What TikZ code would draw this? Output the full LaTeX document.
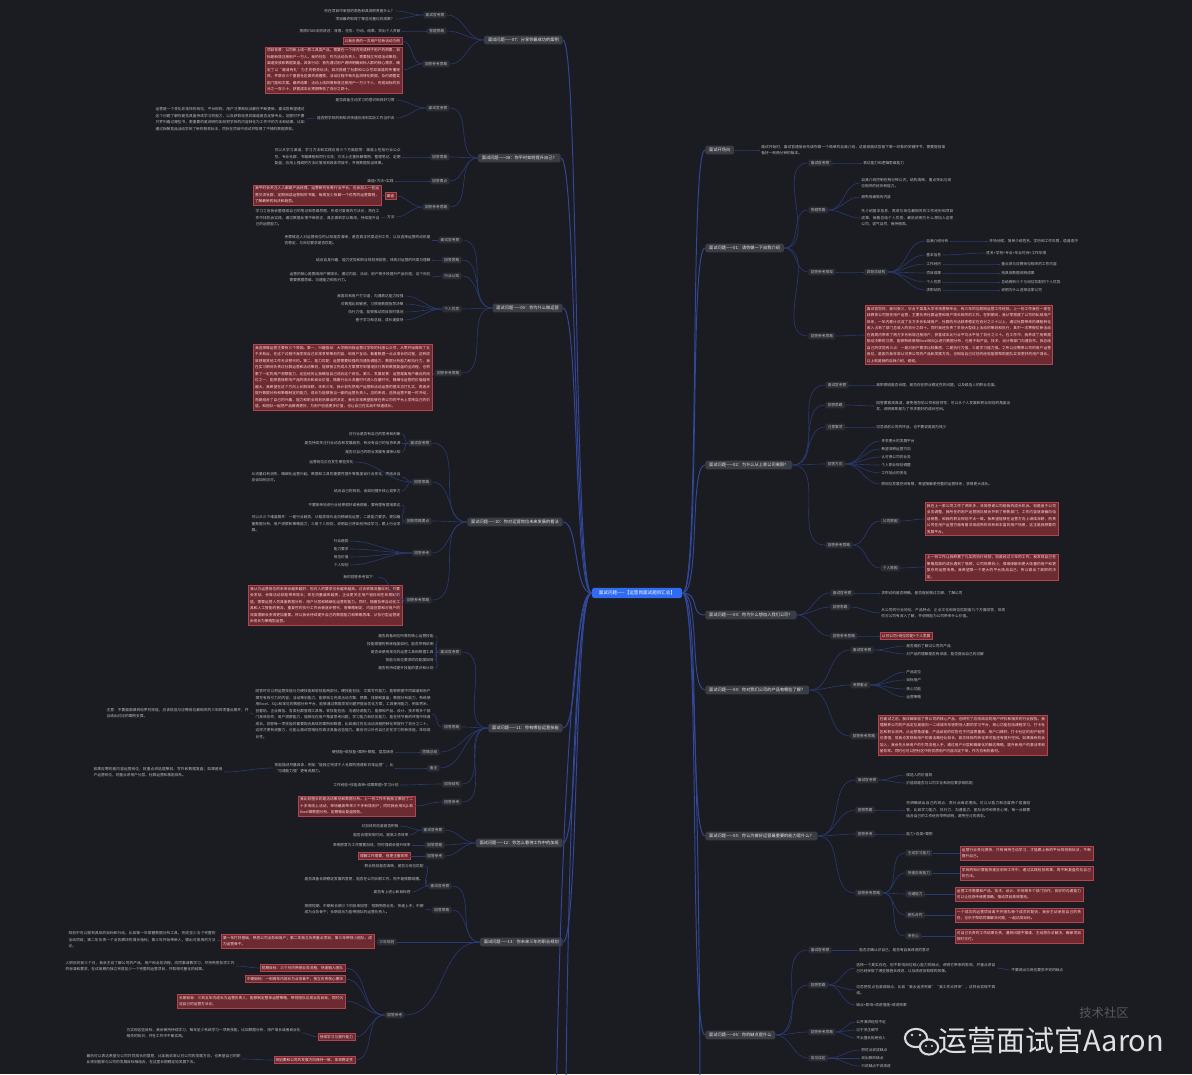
\documentclass[tikz,border=0pt]{standalone}
\usepackage{fontspec}
\setmainfont{Noto Sans CJK SC}
\usetikzlibrary{positioning}
\XeTeXlinebreaklocale "zh"
\XeTeXlinebreakskip=0pt plus 0.4pt
\definecolor{bgdark}{HTML}{1A1C21}
\definecolor{rootblue}{HTML}{2F6CF2}
\definecolor{topicgray}{HTML}{3A3D44}
\definecolor{subgray}{HTML}{2A2D34}
\definecolor{leafgray}{HTML}{BEBEBE}
\definecolor{hotred}{HTML}{6E2A31}
\definecolor{hotedge}{HTML}{B5444F}
\definecolor{trunkblue}{HTML}{33479A}
\definecolor{linkblue}{HTML}{2A3A72}

\begin{document}
\begin{tikzpicture}[x=0.02cm, y=-0.02cm,
  root/.style={rectangle, fill=rootblue, text=white, rounded corners=1pt,
               font=\fontsize{2.6}{3}\selectfont, inner xsep=4pt, inner ysep=1.7pt},
  topic/.style={rectangle, fill=topicgray, text=white!92!black, rounded corners=1pt,
                font=\fontsize{2.4}{3}\selectfont, inner xsep=2.2pt, inner ysep=1.4pt},
  sub/.style={rectangle, fill=subgray, text=leafgray, rounded corners=0.8pt,
              font=\fontsize{2.1}{2.6}\selectfont, inner xsep=1.4pt, inner ysep=0.9pt},
  leaf/.style={text=leafgray, font=\fontsize{2.1}{3.7}\selectfont, inner sep=0.6pt, align=justify},
  hot/.style={leaf, fill=hotred, draw=hotedge, line width=0.25pt, text=white!85!red, inner sep=1pt},
  trunk/.style={draw=trunkblue, line width=0.55pt},
  lnk/.style={draw=linkblue, line width=0.35pt},
]
  \useasboundingbox (0,0) rectangle (1192,1074);
  \fill[bgdark] (0,0) rectangle (1192,1074);
  \clip (0,0) rectangle (1192,1074);

  % centre
  \node[root] (C) at (637,593) {面试问题——【运营岗面试题目汇总】};

  % left topics
  \node[topic, anchor=east] (L1) at (563,40)  {面试问题——07：分享你最成功的案例};
  \node[topic, anchor=east] (L2) at (561,158) {面试问题——08：你平时如何提升自己？};
  \node[topic, anchor=east] (L3) at (563,308) {面试问题——09：你为什么做运营};
  \node[topic, anchor=east] (L4) at (563,522) {面试问题——10：你对运营岗位未来发展的看法};
  \node[topic, anchor=east] (L5) at (563,728) {面试问题——11：你有哪些运营技能};
  \node[topic, anchor=east] (L6) at (563,843) {面试问题——12：你怎么看待工作中的加班};
  \node[topic, anchor=east] (L7) at (563,942) {面试问题——13：你未来三年的职业规划};
  \coordinate (Ldn1) at (566,1100);
  \coordinate (Ldn2) at (556,1130);

  % right topics
  \node[topic, anchor=west] (R0) at (705,150)  {面试开场白};
  \node[topic, anchor=west] (R1) at (705,248)  {面试问题——01：请你做一下自我介绍};
  \node[topic, anchor=west] (R2) at (705,465)  {面试问题——02：为什么从上家公司离职？};
  \node[topic, anchor=west] (R3) at (705,615)  {面试问题——03：你为什么想加入我们公司？};
  \node[topic, anchor=west] (R4) at (705,690)  {面试问题——04：你对我们公司的产品有哪些了解？};
  \node[topic, anchor=west] (R5) at (705,836)  {面试问题——05：你认为做好运营最重要的能力是什么？};
  \node[topic, anchor=west] (R6) at (705,1035) {面试问题——06：你的缺点是什么};
  \coordinate (Rdn1) at (700,1110);

  % ---- 07
  \node[sub, anchor=east] (L1a) at (447,15) {面试官考察};
  \node[leaf, anchor=east] (L1a1) at (396,11) {你在项目中承担的角色和具体职责是什么？};
  \node[leaf, anchor=east] (L1a2) at (396,19) {项目最终取得了哪些可量化的成果？};
  \node[sub, anchor=east] (L1b) at (447,31) {答题思路};
  \node[leaf, anchor=east] (L1b1) at (402,31) {按照STAR法则讲述：背景、任务、行动、结果，突出个人贡献};
  \node[sub, anchor=east] (L1c) at (450,64) {回答参考思路};
  \node[hot, anchor=east] (L1c1) at (402,41) {以我负责的一次用户拉新活动为例};
  \node[hot, anchor=east, text width=2.66cm] (L1c2) at (402,70) {项目背景：公司新上线一款工具类产品，需要在一个月内完成种子用户的积累，目标是新增注册用户一万人。我的任务：作为活动负责人，需要独立完成活动策划、渠道投放和数据复盘。具体行动：首先通过用户调研明确目标人群的核心需求，确定了以“邀请有礼”为主的裂变玩法；其次搭建了社群和公众号双渠道的传播矩阵，并联合三个垂直社区做资源置换；活动过程中每天监测转化数据，及时调整奖励门槛和文案。最终结果：活动上线四周新增注册用户一万三千人，完成目标的百分之一百三十，获客成本比预期降低了百分之四十。};

  % ---- 08
  \node[sub, anchor=east] (L2a) at (450,108) {面试官考察};
  \node[leaf, anchor=east] (L2a1) at (396,100) {是否具备主动学习的意识和良好习惯};
  \node[leaf, anchor=east] (L2a2) at (396,118) {能否把学到的新知识快速应用到实际工作当中去};
  \node[leaf, anchor=east, text width=2.98cm] (L2a2x) at (306,119) {运营是一个变化非常快的岗位，平台规则、用户习惯和玩法都在不断更新，面试官希望通过这个问题了解你是否具备持续学习的能力，以及获取信息的渠道是否足够专业。回答时不要只罗列看过哪些书，更重要的是说明你如何把学到的内容转化为工作中的方法和结果，比如通过拆解竞品活动学到了新的裂变玩法，然后在项目中测试并取得了不错的数据表现。};
  \node[sub, anchor=east] (L2b) at (450,157) {回答思路};
  \node[leaf, anchor=east, text width=2.52cm] (L2b1) at (402,157) {可以从学习渠道、学习方法和实践应用三个方面回答：渠道上包括行业公众号、专业社群、书籍课程和同行交流；方法上注重拆解案例、整理笔记、定期复盘；应用上强调把方法论落地到具体项目中，并用数据验证效果。};
  \node[sub, anchor=east] (L2c) at (450,181) {回答要点};
  \node[leaf, anchor=east] (L2c1) at (395,181) {渠道+方法+实践};
  \node[sub, anchor=east] (L2d) at (450,207) {回答参考思路};
  \node[hot, anchor=east] (L2d1) at (396,196) {渠道};
  \node[hot, anchor=east, text width=2.48cm] (L2d1x) at (381,195) {我平时会关注人人都是产品经理、运营研究社等行业平台，也会加入一些运营交流社群，定期阅读运营相关书籍，每周至少拆解一个优秀的运营案例，了解最新的玩法和趋势。};
  \node[leaf, anchor=east] (L2d2) at (396,217) {方法};
  \node[leaf, anchor=east, text width=2.48cm] (L2d2x) at (381,218) {学习之后我会整理成自己的笔记和思维导图，形成可复用的方法论，再在工作中找机会实践，通过数据反馈不断修正，真正做到学以致用，持续提升自己的运营能力。};

  % ---- 09
  \node[sub, anchor=east] (L3a) at (462,240) {面试官考察};
  \node[leaf, anchor=east, text width=2.92cm] (L3a1) at (432,240) {考察候选人对运营岗位的认知是否清晰，是否真正热爱这份工作，以及选择运营的动机是否稳定、与岗位要求是否匹配。};
  \node[sub, anchor=east] (L3b) at (462,260) {回答思路};
  \node[leaf, anchor=east] (L3b1) at (432,260) {结合自身兴趣、能力优势和职业规划来回答，体现对运营的热爱与理解};
  \node[sub, anchor=east] (L3c) at (462,276) {行业认知};
  \node[leaf, anchor=east, text width=2.82cm] (L3c1) at (432,277) {运营的核心是围绕用户做增长，通过内容、活动、用户等手段提升产品价值；这个岗位需要数据思维、沟通能力和执行力。};
  \node[sub, anchor=east] (L3d) at (462,309) {个人优势};
  \node[leaf, anchor=east] (L3d1) at (405,296) {我喜欢和用户打交道，沟通表达能力较强};
  \node[leaf, anchor=east] (L3d2) at (405,304) {对数据比较敏感，习惯用数据指导决策};
  \node[leaf, anchor=east] (L3d3) at (405,312) {执行力强，能够推动项目按时落地};
  \node[leaf, anchor=east] (L3d4) at (405,320) {善于学习和总结，成长速度快};
  \node[sub, anchor=east] (L3e) at (462,373) {回答参考思路};
  \node[hot, anchor=east, text width=3.5cm] (L3e1) at (432,377) {我选择做运营主要有三个原因。第一，兴趣驱动：大学期间我运营过学校的社团公众号，从零开始做到了五千多粉丝，在这个过程中我发现自己非常享受策划内容、和用户互动、看着数据一点点增长的过程，这种成就感是其他工作无法替代的。第二，能力匹配：运营需要较强的沟通协调能力、数据分析能力和执行力，我在实习期间负责过社群运营和活动策划，能够独立完成从方案撰写到落地执行再到数据复盘的全流程，也积累了一定的用户洞察能力，这些经历让我确信自己适合这个岗位。第三，发展前景：运营是离用户最近的岗位之一，能够直接影响产品的增长和商业价值，随着行业从流量时代进入存量时代，精细化运营的价值越来越大，我希望在这个方向上长期深耕。未来三年，我计划先把用户运营和活动运营的基本功打扎实，再逐步提升数据分析和策略制定的能力，成长为能够独当一面的运营负责人。总的来说，选择运营不是一时冲动，而是结合了自己的兴趣、能力和职业规划后做出的决定，我也非常希望能够在贵公司的平台上发挥自己的价值，和团队一起把产品做得更好，为用户创造更多价值，也让自己在实战中快速成长。};

  % ---- 10
  \node[sub, anchor=east] (L4a) at (432,443) {面试官考察};
  \node[leaf, anchor=east] (L4a1) at (402,434) {对行业是否有自己的思考和判断};
  \node[leaf, anchor=east] (L4a2) at (402,443) {是否持续关注行业动态和发展趋势，有没有自己的信息来源};
  \node[leaf, anchor=east] (L4a3) at (402,452) {是否对自己的职业发展有清晰认知};
  \node[sub, anchor=east] (L4b) at (432,482) {回答思路};
  \node[leaf, anchor=east] (L4b1) at (355,462) {运营岗位正在发生哪些变化};
  \node[leaf, anchor=east, text width=2.98cm] (L4b2) at (402,477) {从流量红利消失、精细化运营兴起、数据和工具的重要性提升等角度谈行业变化，再结合自身谈如何应对。};
  \node[leaf, anchor=east] (L4b3) at (402,491) {结合自己的规划，谈如何提升核心竞争力};
  \node[sub, anchor=east] (L4c) at (432,521) {回答思路要点};
  \node[leaf, anchor=east] (L4c1) at (402,505) {不要简单地说行业前景很好或者很差，要有理有据地表达};
  \node[leaf, anchor=east, text width=2.98cm] (L4c2) at (402,524) {可以从三个维度展开：一是行业趋势，从粗放增长走向精细化运营；二是能力要求，更加看重数据分析、用户洞察和策略能力；三是个人规划，说明自己将如何持续学习，跟上行业发展。};
  \node[sub, anchor=east] (L4d) at (432,553) {回答参考};
  \node[leaf, anchor=east] (L4d1) at (350,541) {行业趋势};
  \node[leaf, anchor=east] (L4d2) at (350,549) {能力要求};
  \node[leaf, anchor=east] (L4d3) at (350,557) {岗位价值};
  \node[leaf, anchor=east] (L4d4) at (350,565) {个人规划};
  \node[sub, anchor=east] (L4e) at (432,600) {回答参考思路};
  \node[leaf, anchor=east] (L4e1) at (378,577) {我的回答参考如下：};
  \node[hot, anchor=east, text width=3cm] (L4e2) at (402,605) {我认为运营岗位的未来会越来越好，但对人的要求也会越来越高。过去依靠流量红利，只要会发帖、会做活动就能带来增长；现在流量越来越贵，企业更关注用户留存和生命周期价值，需要运营人员具备数据分析、用户分层和精细化运营的能力。同时，随着各种自动化工具和人工智能的普及，重复性的执行工作会被逐步替代，而策略制定、内容创意和对用户的深度理解会变得更加重要。所以我会持续提升自己的数据能力和策略思维，从执行型运营逐步成长为策略型运营。};

  % ---- 11
  \node[sub, anchor=east] (L5a) at (462,652) {面试官考察};
  \node[leaf, anchor=east] (L5a1) at (435,636) {是否具备岗位所需的核心运营技能};
  \node[leaf, anchor=east] (L5a2) at (435,644) {技能掌握的熟练程度如何，能否举例说明};
  \node[leaf, anchor=east] (L5a3) at (435,652) {是否会使用常见的运营工具和数据工具};
  \node[leaf, anchor=east] (L5a4) at (435,660) {技能与岗位要求的匹配度如何};
  \node[leaf, anchor=east] (L5a5) at (435,668) {是否有持续提升技能的意识和计划};
  \node[sub, anchor=east] (L5b) at (462,727) {回答思路};
  \node[leaf, anchor=east, text width=3.5cm] (L5b1) at (432,714) {回答时可以把运营技能分为硬技能和软技能两部分。硬技能包括：文案写作能力，能够根据不同渠道和用户撰写有吸引力的内容；活动策划能力，能够独立完成活动方案、预算、排期和复盘；数据分析能力，熟练使用Excel、SQL和常见的数据分析平台，能够通过数据发现问题并提出优化方案；工具使用能力，例如秀米、创客贴、企业微信、各类社群管理工具等。软技能包括：沟通协调能力，能够和产品、设计、技术等多个部门高效协作；用户洞察能力，能够站在用户角度思考问题；学习能力和抗压能力，能在快节奏的环境中快速成长。回答每一项技能时都要配合具体的案例和数据，比如通过优化活动流程把转化率提升了百分之二十，这样才更有说服力，也能让面试官相信你真正具备这些能力。最后可以补充自己正在学习的新技能，体现成长性。};
  \node[leaf, anchor=east, text width=2.84cm] (L5b1x) at (250,713) {注意：不要面面俱到地罗列技能，应该挑选与应聘岗位最相关的三到四项重点展开，并且给出对应的案例支撑。};
  \node[sub, anchor=east] (L5c) at (440,752) {思路总结};
  \node[leaf, anchor=east] (L5c1) at (395,752) {硬技能+软技能+案例+数据，层层递进};
  \node[sub, anchor=east] (L5d) at (440,768) {备注};
  \node[leaf, anchor=east, text width=2.38cm] (L5d1) at (395,768) {技能描述尽量具体，例如“能独立完成千人社群的搭建和日常运营”，比“沟通能力强”更有说服力。};
  \node[leaf, anchor=east, text width=2.58cm] (L5d1x) at (224,772) {如果应聘的是内容运营岗位，就重点讲选题策划、写作和数据复盘；如果是用户运营岗位，则重点讲用户分层、社群运营和激励体系。};
  \node[sub, anchor=east] (L5e) at (462,784) {回答结构};
  \node[leaf, anchor=east] (L5e1) at (400,785) {工作经验+技能清单+成果数据+学习计划};
  \node[sub, anchor=east] (L5f) at (462,802) {回答参考};
  \node[hot, anchor=east, text width=2.26cm] (L5f1) at (415,806) {我比较擅长的是活动策划和数据分析。上一份工作中我独立策划了二十多场线上活动，单场最高带来三千多新增用户；同时我会用SQL和Excel做数据分析，定期输出复盘报告。};

  % ---- 12
  \node[sub, anchor=east] (L6a) at (445,830) {面试官考察};
  \node[leaf, anchor=east] (L6a1) at (400,826) {对加班的态度是否积极};
  \node[leaf, anchor=east] (L6a2) at (410,835) {能否合理安排时间，提高工作效率};
  \node[sub, anchor=east] (L6b) at (445,845) {回答思路};
  \node[leaf, anchor=east] (L6b1) at (412,845) {表明愿意为工作需要加班，同时强调会提升效率};
  \node[sub, anchor=east] (L6c) at (445,856) {回答参考};
  \node[hot, anchor=east] (L6c1) at (410,856) {理解工作需要，但更注重效率};

  % ---- 13
  \node[sub, anchor=east] (L7a) at (452,886) {面试官考察};
  \node[leaf, anchor=east] (L7a1) at (425,866) {职业规划是否清晰，是否与岗位匹配};
  \node[leaf, anchor=east, text width=2.38cm] (L7a2) at (425,879) {是否具备长期稳定发展的意愿，能否在公司长期工作，而不是频繁跳槽。};
  \node[leaf, anchor=east] (L7a3) at (412,892) {是否有上进心和目标感};
  \node[sub, anchor=east] (L7b) at (452,910) {回答思路};
  \node[leaf, anchor=east, text width=2.38cm] (L7b1) at (425,909) {按照短期、中期和长期三个阶段来回答：短期熟悉业务、快速上手；中期成为业务骨干；长期成长为能带团队的运营负责人。};
  \node[sub, anchor=east] (L7c) at (397,942) {三年规划};
  \node[hot, anchor=east, text width=2.98cm] (L7c1) at (374,941) {第一年打好基础，熟悉公司业务和用户；第二年独立负责重点项目；第三年带领小团队，成为运营骨干。};
  \node[leaf, anchor=east, text width=2.94cm] (L7c1x) at (217,940) {规划中可以提到具体的目标和行动，比如第一年掌握数据分析工具，完成至少五个完整的活动项目；第二年负责一个业务模块的增长指标；第三年开始带新人，输出可复用的方法论。};
  \node[sub, anchor=east] (L7d) at (405,1015) {回答参考};
  \node[hot, anchor=east] (L7d1) at (345,968) {短期目标：三个月内熟悉业务流程，快速融入团队};
  \node[leaf, anchor=east, text width=3.38cm] (L7d1x) at (236,966) {入职后的前三个月，我会主动了解公司的产品、用户和业务流程，向同事请教学习，尽快熟悉各项工作的标准和要求，在试用期内独立完成至少一个完整的运营项目，并取得可量化的结果。};
  \node[hot, anchor=east] (L7d2) at (345,979) {中期目标：一到两年内成长为业务骨干，独立负责核心模块};
  \node[hot, anchor=east, text width=3.28cm] (L7d3) at (345,1001) {长期目标：三到五年内成长为运营负责人，能够制定整体运营策略，带领团队达成业务目标，同时沉淀自己的运营方法论。};
  \node[hot, anchor=east] (L7d4) at (355,1037) {持续学习与提升能力};
  \node[leaf, anchor=east, text width=3.48cm] (L7d4x) at (302,1033) {为实现这些目标，我会保持持续学习，每年至少系统学习一项新技能，比如数据分析、用户增长或者商业化相关的知识，并在工作中不断实践。};
  \node[hot, anchor=east] (L7d5) at (355,1060) {规划要和公司的发展方向保持一致，体现稳定性};
  \node[leaf, anchor=east, text width=3.08cm] (L7d5x) at (242,1059) {最后可以表达希望与公司共同成长的意愿，比如我非常认可公司的发展方向，也希望自己的职业规划能够与公司的发展目标相结合，在这里长期稳定地发展下去。};

  % ---- 开场
  \node[leaf, anchor=west, text width=3.68cm] (R0a) at (760,150) {面试开始时，面试官通常会先请你做一个简单的自我介绍，这是给面试官留下第一印象的关键环节，需要提前准备好一到两分钟的版本。};

  % ---- 01
  \node[sub, anchor=west] (R1a) at (808,163) {面试官考察};
  \node[leaf, anchor=west] (R1a1) at (862,163) {表达能力和逻辑思维能力};
  \node[sub, anchor=west] (R1b) at (808,210) {答题思路};
  \node[leaf, anchor=west, text width=1.8cm] (R1b1) at (860,183) {自我介绍控制在两分钟以内，结构清晰，重点突出与岗位相关的经历和能力。};
  \node[leaf, anchor=west] (R1b2) at (860,197) {避免背诵简历内容};
  \node[leaf, anchor=west, text width=1.84cm] (R1b3) at (860,218) {先介绍基本信息，再讲与岗位最相关的工作经历和项目成果，接着总结个人优势，最后说明为什么想加入这家公司，语气自然，保持微笑。};
  \node[sub, anchor=west] (R1c) at (808,272) {回答参考框架};
  \node[sub, anchor=west] (R1c0) at (864,272) {四段式结构};
  \node[leaf, anchor=west] (R1c6) at (925,241) {自我介绍分析};
  \node[leaf, anchor=west] (R1c6x) at (988,241) {开场问候，简单介绍姓名、学历和工作年限，语速适中};
  \node[leaf, anchor=west] (R1c1) at (925,255) {基本信息};
  \node[leaf, anchor=west] (R1c1x) at (985,253) {姓名+学校+专业+毕业时间+工作年限};
  \node[leaf, anchor=west] (R1c2) at (925,264) {工作经历};
  \node[leaf, anchor=west] (R1c2x) at (1000,264) {重点讲与应聘岗位相关的工作内容};
  \node[leaf, anchor=west] (R1c3) at (925,273) {项目成果};
  \node[leaf, anchor=west] (R1c3x) at (1000,273) {用具体数据说明成果};
  \node[leaf, anchor=west] (R1c4) at (925,282) {个人优势};
  \node[leaf, anchor=west] (R1c4x) at (1000,282) {总结两到三个与岗位匹配的个人优势};
  \node[leaf, anchor=west] (R1c5) at (925,290) {求职动机};
  \node[leaf, anchor=west] (R1c5x) at (1000,290) {说明为什么选择这家公司};
  \node[sub, anchor=west] (R1d) at (808,336) {回答参考思路};
  \node[hot, anchor=west, text width=3.68cm] (R1d1) at (865,335) {面试官您好，我叫张三，毕业于某某大学市场营销专业，有三年的互联网运营工作经验。上一份工作我在一家在线教育公司担任用户运营，主要负责社群运营和用户增长相关的工作。在职期间，我从零搭建了公司的私域用户体系，一年内累计沉淀了五万多名私域用户，社群的月活跃率稳定在百分之三十以上，通过社群带来的课程转化收入占到了部门总收入的百分之四十。同时我还负责了多场大型线上活动的策划和执行，其中一次寒假拉新活动在两周内带来了两万多名新增注册用户，获客成本比行业平均水平低了百分之三十。在工作中，我养成了用数据驱动决策的习惯，能够熟练使用Excel和SQL进行数据分析，也善于和产品、技术、设计等部门沟通协作。我总结自己的优势有三点：一是对用户需求比较敏感，二是执行力强，三是学习能力强。之所以应聘贵公司的用户运营岗位，是因为我非常认可贵公司的产品和发展方向，也相信自己过往的经验能够帮助团队实现更好的用户增长。以上就是我的自我介绍，谢谢。};

  % ---- 02
  \node[sub, anchor=west] (R2a) at (825,385) {面试官考察};
  \node[leaf, anchor=west, text width=2.58cm] (R2a1) at (875,385) {离职原因是否合理，是否存在职业稳定性的问题，以及候选人的职业态度。};
  \node[sub, anchor=west] (R2b) at (825,405) {回答思路};
  \node[leaf, anchor=west, text width=2.68cm] (R2b1) at (875,406) {回答要客观真诚，避免抱怨前公司和前领导；可以从个人发展和职业规划的角度出发，说明离职是为了寻求更好的成长空间。};
  \node[sub, anchor=west] (R2c) at (825,427) {注意事项};
  \node[leaf, anchor=west] (R2c1) at (875,427) {切忌说前公司的坏话，也不要说是因为钱少};
  \node[sub, anchor=west] (R2d) at (825,464) {回答方向};
  \node[leaf, anchor=west] (R2d1) at (880,441) {寻求更大的发展平台};
  \node[leaf, anchor=west] (R2d2) at (880,449) {希望深耕运营方向};
  \node[leaf, anchor=west] (R2d3) at (880,457) {认可贵公司的业务};
  \node[leaf, anchor=west] (R2d4) at (880,465) {个人职业规划调整};
  \node[leaf, anchor=west] (R2d5) at (880,473) {工作地点的变化};
  \node[leaf, anchor=west, text width=2.4cm] (R2d6) at (880,484) {原岗位发展空间有限，希望接触更完整的运营体系，获得更大成长。};
  \node[sub, anchor=west] (R2e) at (825,545) {回答参考思路};
  \node[sub, anchor=west] (R2e1) at (880,521) {公司原因};
  \node[hot, anchor=west, text width=2.58cm] (R2e1x) at (925,519) {我在上一家公司工作了两年多，非常感谢公司给我的成长机会。但是由于公司业务调整，我所在的用户运营团队被合并到了销售部门，工作内容逐渐偏向电话销售，和我的职业规划不太一致。我希望能够在运营方向上继续深耕，而贵公司在用户运营方面有着非常成熟的体系和丰富的用户场景，这正是我想要的发展平台。};
  \node[sub, anchor=west] (R2e2) at (880,568) {个人原因};
  \node[hot, anchor=west, text width=2.58cm] (R2e2x) at (925,567) {上一份工作让我积累了扎实的执行经验，但是经过三年的工作，我发现自己在策略层面的成长遇到了瓶颈，公司规模较小，很难接触到更大体量的用户和更复杂的运营场景。我希望换一个更大的平台挑战自己，所以做出了离职的决定。};

  % ---- 03
  \node[sub, anchor=west] (R3a) at (830,593) {面试官考察};
  \node[leaf, anchor=west] (R3a1) at (880,593) {求职动机是否明确，是否提前做过功课、了解公司};
  \node[sub, anchor=west] (R3b) at (830,607) {回答思路};
  \node[leaf, anchor=west, text width=2.48cm] (R3b1) at (880,613) {从公司的行业地位、产品特点、企业文化和岗位匹配度几个方面回答，体现你对公司有深入了解，并说明能为公司带来什么价值。};
  \node[sub, anchor=west] (R3c) at (830,636) {回答参考思路};
  \node[hot, anchor=west] (R3c1) at (880,636) {认可公司+岗位匹配+个人发展};

  % ---- 04
  \node[sub, anchor=west] (R4a) at (850,650) {面试官考察};
  \node[leaf, anchor=west] (R4a1) at (905,646) {是否提前了解过公司的产品};
  \node[leaf, anchor=west] (R4a2) at (905,654) {对产品的理解是否有深度，能否提出自己的见解};
  \node[sub, anchor=west] (R4c) at (850,685) {考察重点};
  \node[leaf, anchor=west] (R4c1) at (905,672) {产品定位};
  \node[leaf, anchor=west] (R4c2) at (905,680) {目标用户};
  \node[leaf, anchor=west] (R4c3) at (905,689) {核心功能};
  \node[leaf, anchor=west] (R4c4) at (905,697) {运营策略};
  \node[sub, anchor=west] (R4d) at (850,736) {回答参考思路};
  \node[hot, anchor=west, text width=3.3cm] (R4d1) at (878,735) {在面试之前，我详细体验了贵公司的核心产品，也研究了应用商店的用户评价和相关的行业报告。我理解贵公司的产品定位是面向一二线城市年轻职场人群的学习平台，核心功能包括课程学习、打卡社区和职业测评。从运营角度看，产品目前的优势在于内容质量高、用户口碑好，打卡社区的用户粘性也很强；但我也发现新用户的激活路径比较长，首次体验的转化率可能还有提升空间。如果我有机会加入，我会先从新用户的引导流程入手，通过用户分层和精细化的触达策略，提升新用户的激活率和留存率。同时也可以把社区中的优质用户内容沉淀下来，作为拉新的素材。};

  % ---- 05
  \node[sub, anchor=west] (R5a) at (855,780) {面试官考察};
  \node[leaf, anchor=west] (R5a1) at (905,775) {候选人的价值观};
  \node[leaf, anchor=west] (R5a2) at (905,783) {价值观是否与公司文化和岗位要求相匹配};
  \node[sub, anchor=west] (R5b) at (855,810) {回答思路};
  \node[leaf, anchor=west, text width=2.48cm] (R5b1) at (905,810) {先明确给出自己的观点，再分点阐述理由。可以从能力和态度两个层面回答，比如学习能力、执行力、沟通能力、团队合作和责任心等，每一点都要结合自己的工作经历举例说明，避免空泛的表态。};
  \node[sub, anchor=west] (R5c) at (855,834) {回答参考};
  \node[leaf, anchor=west] (R5c1) at (905,834) {能力+态度+案例};
  \node[sub, anchor=west] (R5d) at (855,893) {回答参考思路};
  \node[sub, anchor=west] (R5d1) at (905,853) {主动学习能力};
  \node[hot, anchor=west, text width=2.58cm] (R5d1x) at (960,853) {运营行业变化很快，只有保持主动学习，才能跟上新的平台规则和玩法，不断提升自己。};
  \node[sub, anchor=west] (R5d2) at (905,873) {快速应用能力};
  \node[hot, anchor=west, text width=2.58cm] (R5d2x) at (960,873) {学到的知识要能快速应用到工作中，通过实践检验效果，再不断复盘优化自己的方法。};
  \node[sub, anchor=west] (R5d3) at (905,894) {沟通能力};
  \node[hot, anchor=west, text width=2.48cm] (R5d3x) at (955,894) {运营工作需要和产品、技术、设计、市场等多个部门协作，良好的沟通能力可以让信息传递更准确，推动项目高效落地。};
  \node[sub, anchor=west] (R5d4) at (905,915) {团队合作};
  \node[hot, anchor=west, text width=2.48cm] (R5d4x) at (955,915) {一个成功的运营项目离不开团队每个成员的配合，我会主动承担自己的责任，也乐于帮助同事解决问题，一起达成目标。};
  \node[sub, anchor=west] (R5d5) at (905,936) {责任心};
  \node[hot, anchor=west, text width=2.48cm] (R5d5x) at (955,936) {对自己负责的工作结果负责，遇到问题不推诿，主动想办法解决，确保项目按时交付。};

  % ---- 06
  \node[sub, anchor=west] (R6a) at (808,950) {面试官考察};
  \node[leaf, anchor=west] (R6a1) at (858,950) {能否正确认识自己，是否有自我改进的意识};
  \node[sub, anchor=west] (R6b) at (808,985) {回答思路};
  \node[leaf, anchor=west, text width=2.78cm] (R6b1) at (855,968) {选择一个真实存在、但不影响岗位核心能力的缺点，说明它带来的影响，并重点讲自己已经采取了哪些措施去改进，以及改进后取得的效果。};
  \node[leaf, anchor=west] (R6b1x) at (1010,970) {不要说出与岗位要求冲突的缺点};
  \node[leaf, anchor=west, text width=2.78cm] (R6b2) at (855,990) {切忌把优点包装成缺点，比如“我太追求完美”“我工作太拼命”，这样会显得不真诚。};
  \node[leaf, anchor=west] (R6b3) at (855,1005) {缺点+影响+改进措施+改进效果};
  \node[sub, anchor=west] (R6c) at (808,1032) {回答参考思路};
  \node[leaf, anchor=west] (R6c1) at (855,1022) {公开演讲经验不足};
  \node[leaf, anchor=west] (R6c2) at (855,1030) {过于关注细节};
  \node[leaf, anchor=west] (R6c3) at (855,1038) {不太擅长拒绝别人};
  \node[sub, anchor=west] (R6d) at (808,1058) {常见误区};
  \node[leaf, anchor=west] (R6d1) at (860,1050) {把优点说成缺点};
  \node[leaf, anchor=west] (R6d2) at (860,1058) {说出致命缺点};
  \node[leaf, anchor=west] (R6d3) at (860,1066) {只说缺点不说改进};

  % trunks
  \foreach \t in {L1,L2,L3,L4,L5,L6,L7}
    \draw[trunk] (C.west) .. controls +(-18,0) and +(16,0) .. (\t.east);
  \foreach \t in {R0,R1,R2,R3,R4,R5,R6}
    \draw[trunk] (C.east) .. controls +(18,0) and +(-16,0) .. (\t.west);
  \draw[trunk] (C.west) .. controls +(-20,0) and +(0,-60) .. (Ldn1);
  \draw[trunk] (C.west) .. controls +(-26,0) and +(0,-60) .. (Ldn2);
  \draw[trunk] (C.east) .. controls +(16,0) and +(0,-60) .. (Rdn1);

  % left links
  \foreach \p/\cs in {L1/{L1a,L1b,L1c}, L1a/{L1a1,L1a2}, L1b/{L1b1}, L1c/{L1c1,L1c2},
      L2/{L2a,L2b,L2c,L2d}, L2a/{L2a1,L2a2}, L2a2/{L2a2x}, L2b/{L2b1}, L2c/{L2c1},
      L2d/{L2d1,L2d2}, L2d1/{L2d1x}, L2d2/{L2d2x},
      L3/{L3a,L3b,L3c,L3d,L3e}, L3a/{L3a1}, L3b/{L3b1}, L3c/{L3c1}, L3d/{L3d1,L3d2,L3d3,L3d4}, L3e/{L3e1},
      L4/{L4a,L4b,L4c,L4d,L4e}, L4a/{L4a1,L4a2,L4a3}, L4b/{L4b1,L4b2,L4b3}, L4c/{L4c1,L4c2},
      L4d/{L4d1,L4d2,L4d3,L4d4}, L4e/{L4e1,L4e2},
      L5/{L5a,L5b,L5c,L5d,L5e,L5f}, L5a/{L5a1,L5a2,L5a3,L5a4,L5a5}, L5b/{L5b1}, L5b1/{L5b1x},
      L5c/{L5c1}, L5d/{L5d1}, L5d1/{L5d1x}, L5e/{L5e1}, L5f/{L5f1},
      L6/{L6a,L6b,L6c}, L6a/{L6a1,L6a2}, L6b/{L6b1}, L6c/{L6c1},
      L7/{L7a,L7b,L7c,L7d}, L7a/{L7a1,L7a2,L7a3}, L7b/{L7b1}, L7c/{L7c1}, L7c1/{L7c1x},
      L7d/{L7d1,L7d2,L7d3,L7d4,L7d5}, L7d1/{L7d1x}, L7d4/{L7d4x}, L7d5/{L7d5x}}
    \foreach \c in \cs
      \draw[lnk] (\p.west) to[out=180, in=0] (\c.east);

  % right links
  \foreach \p/\cs in {R0/{R0a},
      R1/{R1a,R1b,R1c,R1d}, R1a/{R1a1}, R1b/{R1b1,R1b2,R1b3}, R1c/{R1c0},
      R1c0/{R1c6,R1c1,R1c2,R1c3,R1c4,R1c5}, R1c6/{R1c6x}, R1c1/{R1c1x}, R1c2/{R1c2x},
      R1c3/{R1c3x}, R1c4/{R1c4x}, R1c5/{R1c5x}, R1d/{R1d1},
      R2/{R2a,R2b,R2c,R2d,R2e}, R2a/{R2a1}, R2b/{R2b1}, R2c/{R2c1},
      R2d/{R2d1,R2d2,R2d3,R2d4,R2d5,R2d6}, R2e/{R2e1,R2e2}, R2e1/{R2e1x}, R2e2/{R2e2x},
      R3/{R3a,R3b,R3c}, R3a/{R3a1}, R3b/{R3b1}, R3c/{R3c1},
      R4/{R4a,R4c,R4d}, R4a/{R4a1,R4a2}, R4c/{R4c1,R4c2,R4c3,R4c4}, R4d/{R4d1},
      R5/{R5a,R5b,R5c,R5d}, R5a/{R5a1,R5a2}, R5b/{R5b1}, R5c/{R5c1},
      R5d/{R5d1,R5d2,R5d3,R5d4,R5d5}, R5d1/{R5d1x}, R5d2/{R5d2x}, R5d3/{R5d3x},
      R5d4/{R5d4x}, R5d5/{R5d5x},
      R6/{R6a,R6b,R6c,R6d}, R6a/{R6a1}, R6b/{R6b1,R6b2,R6b3}, R6b1/{R6b1x},
      R6c/{R6c1,R6c2,R6c3}, R6d/{R6d1,R6d2,R6d3}}
    \foreach \c in \cs
      \draw[lnk] (\p.east) to[out=0, in=180] (\c.west);

  % watermark
  \node[text=gray!70, opacity=0.45, font=\fontsize{7}{8}\selectfont] (wm2) at (1104,1013) {技术社区};
  \draw[white!85!black, line width=1.2pt] (916,1038) ellipse [x radius=6.3pt, y radius=5.2pt];
  \filldraw[fill=bgdark, draw=white!85!black, line width=1.2pt] (929,1047) ellipse [x radius=5.2pt, y radius=4.3pt];
  \fill[white!85!black] (912,1035) circle [radius=0.8pt] (920,1035) circle [radius=0.8pt]
                        (926,1046) circle [radius=0.6pt] (932,1046) circle [radius=0.6pt];
  \node[text=white!88!black, anchor=west, font=\fontsize{16.5}{18}\selectfont, inner sep=0pt] (wm) at (938,1040) {运营面试官Aaron};
\end{tikzpicture}
\end{document}
